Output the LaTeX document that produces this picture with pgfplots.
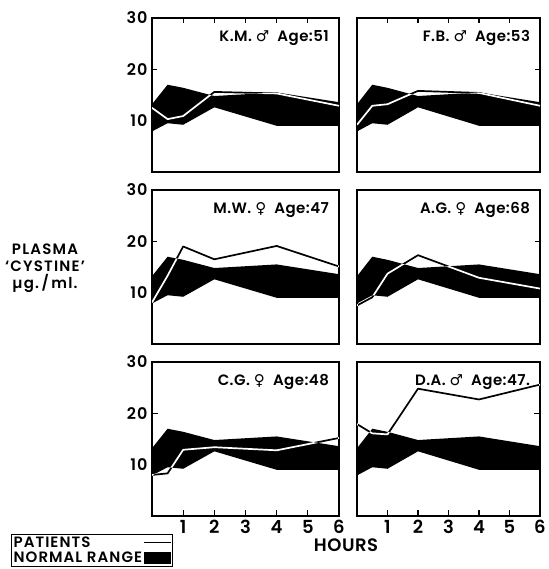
\documentclass[border=0pt]{standalone}
\usepackage{fontspec}
\setmainfont{Poppins}[BoldFont={Poppins SemiBold}]
\newfontfamily\sym{DejaVu Sans}
\usepackage{pgfplots}
\usepackage{pgfplotstable}
\pgfplotsset{compat=1.18}

% normal range (same in every panel): upper edge, then lower edge backwards
\pgfplotstableread{
x   y
0   13.2
0.5 17.0
1   16.4
2   14.8
4   15.5
6   13.6
6   9.0
4   9.0
2   12.6
1   9.2
0.5 9.5
0   7.9
}\band

\pgfplotstableread{
x y
0 12.5
0.5 10.3
1 10.9
2 15.6
4 15.3
6 12.9
}\km
\pgfplotstableread{
x y
0 9.2
0.5 12.9
1 13.2
2 15.8
4 15.4
6 12.9
}\fb
\pgfplotstableread{
x y
0 8.1
0.5 13.3
1 19.0
2 16.5
4 19.1
6 15.1
}\mw
\pgfplotstableread{
x y
0 7.5
0.5 9.1
1 13.7
2 17.3
4 12.9
6 10.8
}\ag
\pgfplotstableread{
x y
0 8.0
0.5 8.3
1 12.9
2 13.4
4 12.8
6 15.2
}\cg
\pgfplotstableread{
x y
0 17.9
0.5 16.1
1 15.9
2 24.8
4 22.7
6 25.6
}\da

\newcommand{\panelfont}{\bfseries\fontsize{15}{15}\selectfont\addfontfeature{LetterSpace=3}}

\pgfplotsset{
  panel/.style={scale only axis, width=187pt, height=154pt,
    anchor=north west, xmin=0, xmax=6, ymin=0, ymax=30,
    axis line style={line width=1.2pt},
    tick style={black, line width=1.2pt}, tick align=inside,
    major tick length=5pt,
    /pgf/number format/assume math mode=true},
  leftcol/.style={ytick={10,20,30}, ytick pos=left,
    yticklabel style={font=\bfseries\fontsize{16}{16}\selectfont\addfontfeature{LetterSpace=6}, xshift=-1pt}},
  rightcol/.style={width=183pt, ytick={10,20}, ytick pos=right, yticklabels={}},
  toprow/.style={xtick={1,2,3,4,5}, xtick pos=right, xticklabels={}},
  midrow/.style={xtick=\empty},
  botrow/.style={xtick={1,2,3,4,5,6}, xtick pos=left, major tick length=6pt,
    xticklabel style={font=\bfseries\fontsize{18}{18}\selectfont, yshift=-1pt}},
  band/.style={fill=black, draw=none,
    legend image code/.code={\fill[black] (6pt,-6pt) rectangle (33pt,6pt);}},
  patient/.style={white, line width=1.7pt, line join=round,
    blend mode=difference,
    legend image code/.code={\draw[black, blend mode=normal, line width=1.5pt]
      (6pt,1pt) -- (33pt,1pt);}},
}

\begin{document}
\begin{tikzpicture}
\fill[white] (0pt,0pt) rectangle (548pt,-569pt);
\path[use as bounding box] (0pt,0pt) rectangle (548pt,-569pt);

\begin{axis}[panel, leftcol, toprow, at={(152pt,-18pt)}]
\addplot[band] table {\band};
\addplot[patient] table {\km};
\node[anchor=east, font=\panelfont] at (rel axis cs:0.965,0.87) {K.M.\ {\sym ♂}\ \ Age:51};
\end{axis}

\begin{axis}[panel, rightcol, toprow, at={(357pt,-18pt)}]
\addplot[band] table {\band};
\addplot[patient] table {\fb};
\node[anchor=east, font=\panelfont] at (rel axis cs:0.965,0.87) {F.B.\ {\sym ♂}\ \ Age:53};
\end{axis}

\begin{axis}[panel, leftcol, midrow, at={(152pt,-190pt)}]
\addplot[band] table {\band};
\addplot[patient] table {\mw};
\node[anchor=east, font=\panelfont] at (rel axis cs:0.965,0.87) {M.W.\ {\sym ♀}\ \ Age:47};
\end{axis}

\begin{axis}[panel, rightcol, midrow, at={(357pt,-190pt)}]
\addplot[band] table {\band};
\addplot[patient] table {\ag};
\node[anchor=east, font=\panelfont] at (rel axis cs:0.965,0.87) {A.G.\ {\sym ♀}\ \ Age:68};
\end{axis}

\begin{axis}[panel, leftcol, botrow, at={(152pt,-362pt)},
  reverse legend, legend plot pos=right, legend cell align=left,
  legend style={at={(-0.754,-0.118)}, anchor=north west,
    draw=black, line width=1.2pt, fill=white, inner sep=1pt,
    nodes={inner sep=1pt, text height=11pt, text depth=2pt}, row sep=0pt,
    font=\bfseries\fontsize{15}{15}\selectfont\addfontfeature{LetterSpace=7}}]
\addplot[band] table {\band};
\addlegendentry{NORMAL RANGE}
\addplot[patient] table {\cg};
\addlegendentry{PATIENTS}
\node[anchor=east, font=\panelfont] at (rel axis cs:0.965,0.87) {C.G.\ {\sym ♀}\ \ Age:48};
\end{axis}

\begin{axis}[panel, rightcol, botrow, at={(357pt,-362pt)}]
\addplot[band] table {\band};
\addplot[patient] table {\da};
\node[anchor=east, font=\panelfont] at (rel axis cs:0.965,0.87) {D.A.\ {\sym ♂}\ \ Age:47.};
\end{axis}

\node[font=\bfseries\fontsize{18}{18}\selectfont\addfontfeature{LetterSpace=3}] at (346pt,-545pt) {HOURS};
\node[align=center, font=\bfseries\fontsize{15}{17}\selectfont\addfontfeature{LetterSpace=8}] at (45pt,-268pt)
  {PLASMA\\‘CYSTINE’\\µg.\,/\,ml.};
\end{tikzpicture}
\end{document}
